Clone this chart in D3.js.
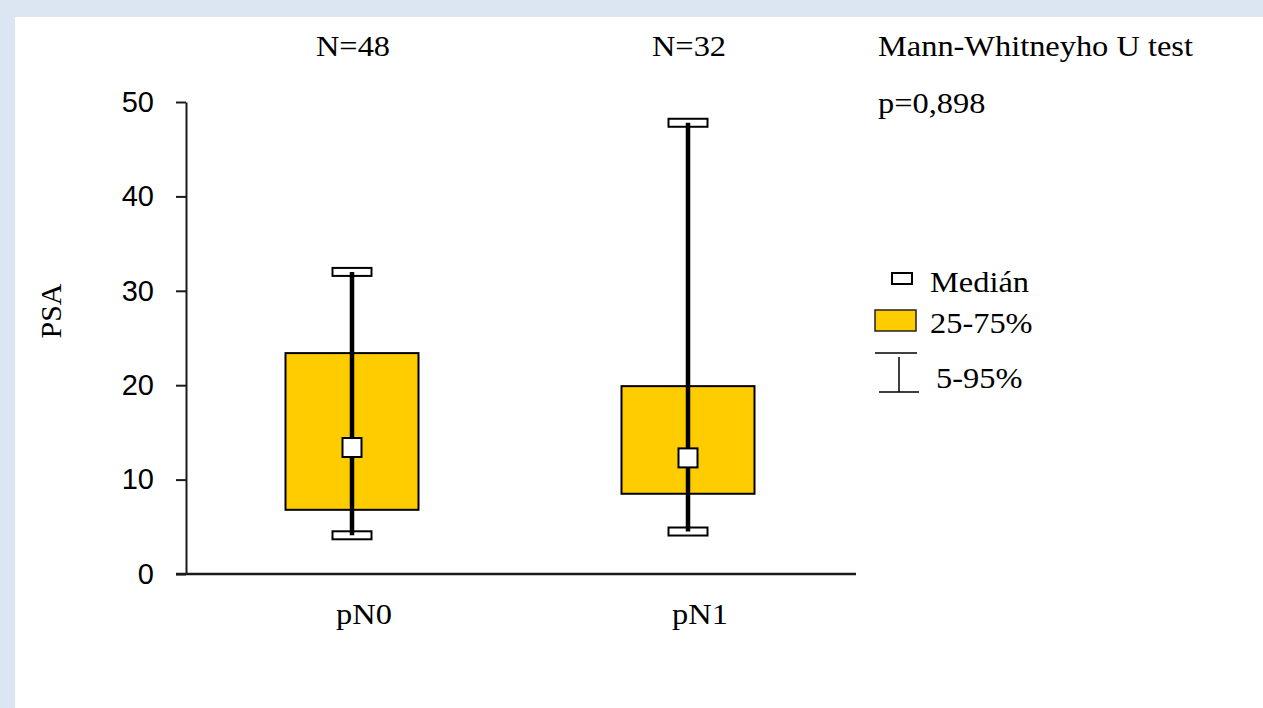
<!DOCTYPE html>
<html>
<head>
<meta charset="utf-8">
<script src="https://cdn.jsdelivr.net/npm/d3@7"></script>
<style>
  body { margin: 0; background: #dce6f2; }
  svg { display: block; }
</style>
</head>
<body>
<svg></svg>
<script>
// Data =======================================================================

const groups = ["pN0", "pN1"];
const counts = ["N=48", "N=32"];
const whiskerLow = [4.1, 4.5];
const q1 = [6.8, 8.5];
const median = [13.4, 12.3];
const q3 = [23.4, 19.9];
const whiskerHigh = [32.0, 47.8];
const yTicks = [0, 10, 20, 30, 40, 50];
const testName = "Mann-Whitneyho U test";
const pValue = "p=0,898";
const legendLabels = ["Medián", "25-75%", "5-95%"];

// Setup ======================================================================

const width = 1263,
  height = 708;

const svg = d3.select("svg")
  .attr("width", width)
  .attr("height", height);

// white panel on blue page
svg.append("rect")
  .attr("x", 15).attr("y", 17)
  .attr("width", width - 15).attr("height", height - 17)
  .attr("fill", "#fff");

const serif = "'Liberation Serif', 'Times New Roman', serif";
const sans = "'Liberation Sans', Arial, sans-serif";
const fs = 30;

// text is a bit wide in the original, so stretch horizontally
function label(g, x, y, txt, anchor) {
  return g.append("text")
    .attr("transform", `translate(${x},${y}) scale(1.08,1)`)
    .attr("text-anchor", anchor || "start")
    .attr("font-family", serif).attr("font-size", fs)
    .attr("fill", "#000")
    .text(txt);
}

// Scales =====================================================================

const y = d3.scaleLinear().domain([0, 50]).range([574, 102]);
const x = d3.scalePoint().domain(groups).range([352, 688]);

// Axes =======================================================================

const yAxis = svg.append("g")
  .attr("transform", "translate(186,0)")
  .call(d3.axisLeft(y).tickValues(yTicks).tickSize(10).tickPadding(22).tickSizeOuter(0));
yAxis.select(".domain").attr("stroke", "#1a1a1a").attr("stroke-width", 2);
yAxis.selectAll(".tick line").attr("stroke", "#1a1a1a").attr("stroke-width", 2);
yAxis.selectAll(".tick text")
  .attr("font-family", sans).attr("font-size", 29).attr("fill", "#000");

svg.append("line")
  .attr("x1", 176).attr("x2", 856)
  .attr("y1", y(0)).attr("y2", y(0))
  .attr("stroke", "#1a1a1a").attr("stroke-width", 2.5);

groups.forEach(g => label(svg, x(g) + 12, 624, g, "middle"));

svg.append("text")
  .attr("transform", "translate(61,311) rotate(-90)")
  .attr("text-anchor", "middle")
  .attr("font-family", serif).attr("font-size", fs)
  .text("PSA");

// Boxes ======================================================================

const boxW = 133, capW = 39, capH = 8, medS = 19;

svg.selectAll("rect.box")
  .data(groups)
  .enter()
  .append("rect")
  .attr("class", "box")
  .attr("x", d => x(d) - boxW / 2)
  .attr("y", (d, i) => y(q3[i]))
  .attr("width", boxW)
  .attr("height", (d, i) => y(q1[i]) - y(q3[i]))
  .attr("fill", "#ffcc00")
  .attr("stroke", "#000").attr("stroke-width", 2);

// caps
groups.forEach((g, i) => {
  [whiskerLow[i], whiskerHigh[i]].forEach(v => {
    svg.append("rect")
      .attr("x", x(g) - capW / 2)
      .attr("y", y(v) - capH / 2)
      .attr("width", capW).attr("height", capH)
      .attr("fill", "#fff")
      .attr("stroke", "#000").attr("stroke-width", 2);
  });
});

svg.selectAll("line.whisker")
  .data(groups)
  .enter()
  .append("line")
  .attr("class", "whisker")
  .attr("x1", d => x(d)).attr("x2", d => x(d))
  .attr("y1", (d, i) => y(whiskerLow[i]))
  .attr("y2", (d, i) => y(whiskerHigh[i]))
  .attr("stroke", "#000").attr("stroke-width", 4.5);

svg.selectAll("rect.median")
  .data(groups)
  .enter()
  .append("rect")
  .attr("class", "median")
  .attr("x", d => x(d) - medS / 2)
  .attr("y", (d, i) => y(median[i]) - medS / 2)
  .attr("width", medS).attr("height", medS)
  .attr("fill", "#fff")
  .attr("stroke", "#000").attr("stroke-width", 2);

// Top labels =================================================================

groups.forEach((g, i) => label(svg, x(g) + 1, 56, counts[i], "middle"));

label(svg, 878, 56, testName);
label(svg, 878, 113, pValue);

// Legend =====================================================================

const leg = svg.append("g");

leg.append("rect")
  .attr("x", 892).attr("y", 273).attr("width", 20).attr("height", 11)
  .attr("fill", "#fff").attr("stroke", "#000").attr("stroke-width", 2);
label(leg, 930, 292, legendLabels[0]);

leg.append("rect")
  .attr("x", 875).attr("y", 310).attr("width", 41).attr("height", 21)
  .attr("fill", "#ffcc00").attr("stroke", "#222").attr("stroke-width", 1.5);
label(leg, 930, 333, legendLabels[1]);

leg.append("line").attr("x1", 875).attr("x2", 917).attr("y1", 353).attr("y2", 353)
  .attr("stroke", "#000").attr("stroke-width", 1.5);
leg.append("line").attr("x1", 899).attr("x2", 899).attr("y1", 357).attr("y2", 392)
  .attr("stroke", "#000").attr("stroke-width", 1.5);
leg.append("line").attr("x1", 879).attr("x2", 919).attr("y1", 392).attr("y2", 392)
  .attr("stroke", "#000").attr("stroke-width", 1.5);
label(leg, 936, 388, legendLabels[2]);
</script>
</body>
</html>
